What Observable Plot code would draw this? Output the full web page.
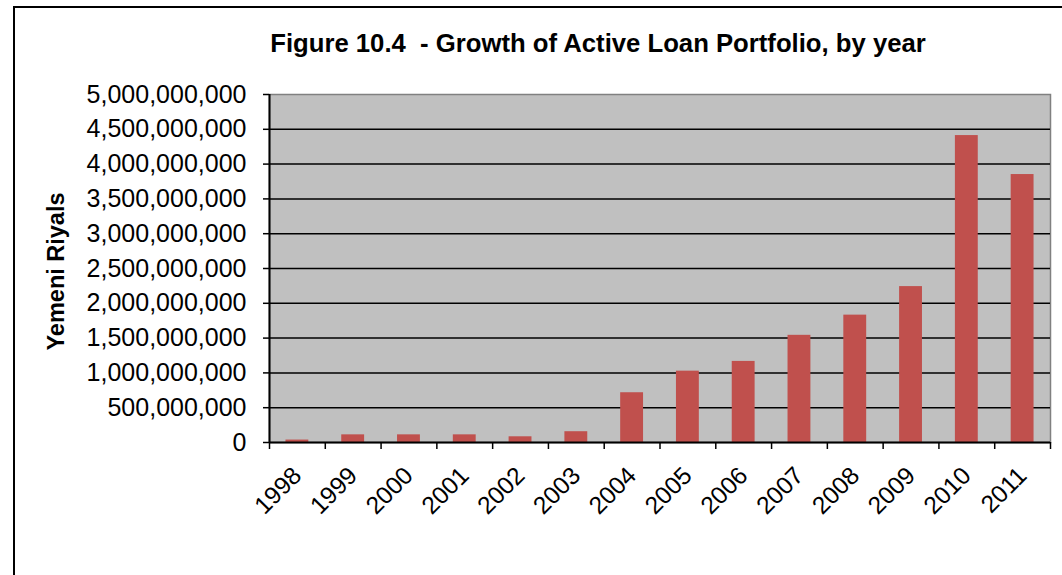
<!DOCTYPE html>
<html><head><meta charset="utf-8">
<script src="https://cdn.jsdelivr.net/npm/d3@7"></script>
<script src="https://cdn.jsdelivr.net/npm/@observablehq/plot@0.6"></script>
<style>
body{margin:0;background:#fff;}
#wrap{position:relative;width:1062px;height:575px;overflow:hidden;font-family:"Liberation Sans",Arial,sans-serif;}
#border{position:absolute;left:13px;top:6px;width:1100px;height:700px;border:2px solid #000;box-sizing:border-box;}
#title{position:absolute;left:198px;width:800px;top:31px;text-align:center;font-weight:bold;font-size:25.7px;line-height:1;white-space:pre;color:#000;}
#chart{position:absolute;left:0;top:0;}
</style></head><body>
<div id="wrap"><div id="border"></div><div id="title"></div><div id="chart"></div></div>
<script>
const years = [1998, 1999, 2000, 2001, 2002, 2003, 2004, 2005, 2006, 2007, 2008, 2009, 2010, 2011];
const values = [35e6, 110e6, 110e6, 110e6, 82e6, 155e6, 715e6, 1025e6, 1165e6, 1540e6, 1830e6, 2240e6, 4410e6, 3850e6];
const yTicks = [0, 5e8, 1e9, 1.5e9, 2e9, 2.5e9, 3e9, 3.5e9, 4e9, 4.5e9, 5e9];
const titleText = "Figure 10.4  - Growth of Active Loan Portfolio, by year";
const yLabel = "Yemeni Riyals";

const data = years.map((year, i) => ({year, value: values[i]}));
const gridValues = yTicks.filter(v => v > 0 && v < 5e9);
const W = 1062, H = 575, mL = 269, mR = 12, mT = 94, mB = 133;
const step = (W - mL - mR) / years.length;

document.getElementById("title").textContent = titleText;

const chart = Plot.plot({
  width: W, height: H,
  marginLeft: mL, marginRight: mR, marginTop: mT, marginBottom: mB,
  style: {fontFamily: "'Liberation Sans', Arial, sans-serif", background: "transparent", overflow: "visible", color: "#000"},
  x: {domain: years, paddingInner: 0.59, paddingOuter: 0.295, round: false, axis: null},
  y: {domain: [0, 5e9], axis: null},
  marks: [
    Plot.frame({fill: "#c0c0c0", stroke: "#808080", strokeWidth: 1.5}),
    Plot.ruleY(gridValues, {stroke: "#000", strokeWidth: 1.5}),
    Plot.barY(data, {x: "year", y: "value", fill: "#c0504d"}),
    Plot.ruleY([0], {stroke: "#000", strokeWidth: 2}),
    Plot.ruleX([years[0]], {dx: -step / 2, stroke: "#000", strokeWidth: 2}),
    Plot.axisY({ticks: yTicks, tickFormat: d3.format(","), tickSize: 6, tickPadding: 17, fontSize: 25, stroke: "#000", strokeWidth: 1.5, label: null}),
    Plot.axisX({ticks: years, tickSize: 7, tickFormat: () => "", dx: -step / 2, stroke: "#000", strokeWidth: 1.5, label: null}),
    Plot.axisX({ticks: [years[years.length - 1]], tickSize: 7, tickFormat: () => "", dx: step / 2, stroke: "#000", strokeWidth: 1.5, label: null}),
    Plot.text(data, {x: "year", frameAnchor: "bottom", text: d => String(d.year), rotate: -45, textAnchor: "end", lineAnchor: "middle", fontSize: 24.5, dx: 0, dy: 29, fill: "#000"}),
    Plot.text([yLabel], {frameAnchor: "left", textAnchor: "middle", dx: -213, dy: 3, rotate: -90, fontWeight: "bold", fontSize: 23.5, fill: "#000"})
  ]
});
document.getElementById("chart").appendChild(chart);
</script>
</body></html>
